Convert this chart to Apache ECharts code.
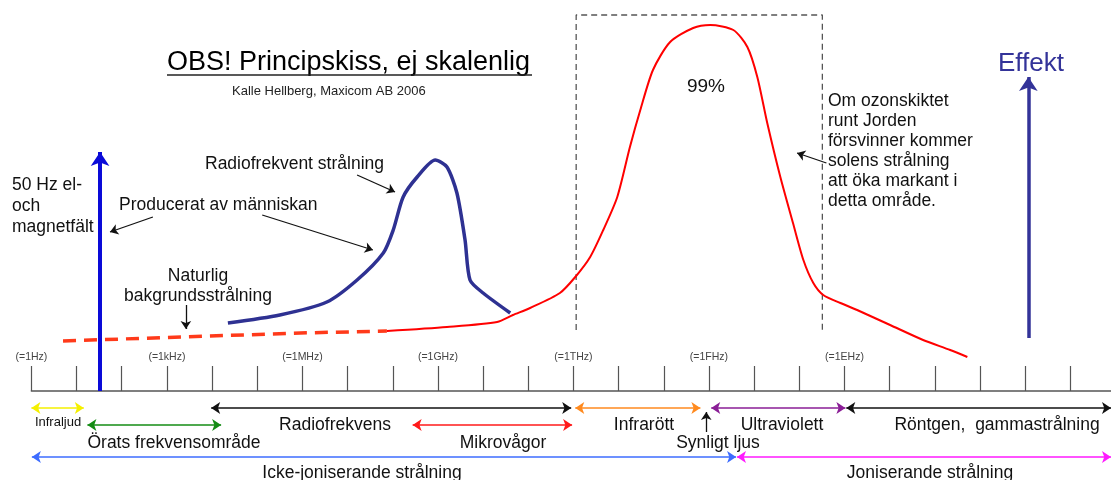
<!DOCTYPE html>
<html>
<head>
<meta charset="utf-8">
<title>Principskiss</title>
<script src="https://cdn.jsdelivr.net/npm/echarts@6/dist/echarts.min.js"></script>
<style>
html, body { margin: 0; padding: 0; background: #fff; }
#main { width: 1111px; height: 480px; }
</style>
</head>
<body>
<div id="main"></div>
<script>
// x: one unit per tick (three ticks = factor 1000), y: effect above the axis line
var tickValues = [0, 1, 2, 3, 4, 5, 6, 7, 8, 9, 10, 11, 12, 13, 14, 15, 16, 17, 18, 19, 20, 21, 22, 23];
var tickLabelValues = [0, 3, 6, 9, 12, 15, 18];
var tickLabels = ["(=1Hz)", "(=1kHz)", "(=1MHz)", "(=1GHz)", "(=1THz)", "(=1FHz)", "(=1EHz)"];

// natural background radiation (dashed part) and the sun's spectrum
var naturalDashed = [[0.70, 50], [5.95, 58], [7.87, 60]];
var naturalSolid = [
	[7.87, 60], [9.20, 64], [10.31, 69], [10.66, 76], [11.04, 83], [11.70, 98],
	[12.04, 114], [12.37, 134], [12.66, 161], [12.97, 194], [13.25, 244], [13.48, 281],
	[13.76, 321], [14.14, 349], [14.65, 363], [15.03, 366], [15.54, 361], [15.85, 344],
	[16.07, 314], [16.29, 268], [16.58, 214], [16.86, 168], [17.09, 131], [17.31, 108],
	[17.53, 96], [17.91, 88], [18.28, 81], [19.01, 66], [19.74, 51], [20.34, 41], [20.72, 34]
];
// man made radio frequency radiation
var manMade = [
	[4.35, 68], [5.50, 76], [6.54, 89], [7.21, 111], [7.79, 138], [8.01, 161],
	[8.23, 194], [8.54, 214], [8.94, 231], [9.20, 224], [9.42, 198], [9.60, 151],
	[9.71, 111], [10.00, 98], [10.60, 78]
];
// 50 Hz field and the "Effekt" axis
var fieldLine = [[1.52, 0], [1.52, 239]];
var effektLine = [[22.07, 53], [22.07, 314]];
// ozone region
var ozoneBox = [[12.06, 61], [12.06, 376], [17.51, 376], [17.51, 61]];

// frequency bands below the axis
var bandNames = ["Infraljud", "Örats frekvensområde", "Radiofrekvens", "Mikrovågor", "Infrarött",
	"Ultraviolett", "Röntgen,  gammastrålning", "Icke-joniserande strålning", "Joniserande strålning"];
var bandFrom = [0.00, 1.24, 3.98, 8.44, 12.04, 15.05, 18.04, 0.01, 15.62];
var bandTo = [1.16, 4.20, 11.95, 11.97, 14.81, 18.02, 23.90, 15.60, 23.90];
var bandLevel = [-17, -34, -17, -34, -17, -17, -17, -66, -66];
var bandColors = ["#f5f000", "#148c14", "#111111", "#ff1a1a", "#ff8a1f", "#8a1e96", "#111111", "#3d6cff", "#ff1aff"];

// small pointer arrows [from, to]
var pointers = [
	[[17.60, 228], [16.95, 238]],
	[[7.21, 216], [8.05, 199]],
	[[2.69, 174], [1.74, 159]],
	[[5.11, 176], [7.56, 141]],
	[[3.42, 86], [3.42, 62]],
	[[14.94, -41], [14.94, -21]]
];

var FONT = '"Liberation Sans", Arial, sans-serif';

function txt(text, x, y, size, opts) {
	opts = opts || {};
	return {
		type: "text",
		x: x,
		y: y,
		silent: true,
		style: {
			text: text,
			font: size + "px " + FONT,
			fill: opts.fill || "#111",
			align: opts.align || "left",
			verticalAlign: opts.va || "middle",
			lineHeight: opts.lh
		}
	};
}

var bandData = bandNames.map(function (n, i) {
	return {
		name: n,
		coords: [[bandFrom[i], bandLevel[i]], [bandTo[i], bandLevel[i]]],
		lineStyle: { color: bandColors[i] }
	};
});

var chart = echarts.init(document.getElementById("main"));
chart.setOption({
	animation: false,
	backgroundColor: "#fff",
	grid: { left: 31.4, right: 0, top: 0, bottom: 89 },
	xAxis: {
		type: "value",
		min: 0,
		max: 23.9,
		splitLine: { show: false },
		axisLine: { lineStyle: { color: "#555", width: 1.5 } },
		axisTick: {
			inside: true,
			length: 25,
			customValues: tickValues,
			lineStyle: { color: "#555", width: 1.2 }
		},
		axisLabel: {
			inside: true,
			margin: 34,
			verticalAlign: "middle",
			customValues: tickLabelValues,
			color: "#444",
			fontSize: 10.5,
			fontFamily: FONT,
			formatter: function (v) {
				var i = tickLabelValues.indexOf(v);
				return i >= 0 ? tickLabels[i] : "";
			}
		}
	},
	yAxis: { type: "value", min: 0, max: 391, show: false },
	series: [
		{
			type: "line",
			data: ozoneBox,
			symbol: "none",
			lineStyle: { color: "#555", width: 1.3, type: [6, 4] }
		},
		{
			type: "line",
			data: naturalDashed,
			symbol: "none",
			lineStyle: { color: "#ff3a1a", width: 3.5, type: [13, 8] }
		},
		{
			type: "line",
			data: naturalSolid,
			symbol: "none",
			smooth: 0.25,
			lineStyle: { color: "#ff0000", width: 2 }
		},
		{
			type: "line",
			data: manMade,
			symbol: "none",
			smooth: 0.25,
			lineStyle: { color: "#2e3192", width: 3.5 }
		},
		{
			type: "lines",
			coordinateSystem: "cartesian2d",
			clip: false,
			symbol: ["none", "arrow"],
			symbolSize: 14,
			lineStyle: { width: 4, opacity: 1 },
			data: [
				{ coords: fieldLine, lineStyle: { color: "#0a0ad8" } },
				{ coords: effektLine, lineStyle: { color: "#333399", width: 3.5 } }
			]
		},
		{
			type: "lines",
			coordinateSystem: "cartesian2d",
			clip: false,
			symbol: ["none", "arrow"],
			symbolSize: 8,
			lineStyle: { color: "#111", width: 1.3, opacity: 1 },
			data: pointers.map(function (p) { return { coords: p }; })
		},
		{
			type: "lines",
			coordinateSystem: "cartesian2d",
			clip: false,
			symbol: ["arrow", "arrow"],
			symbolSize: 9,
			lineStyle: { width: 1.6, opacity: 1 },
			data: bandData
		}
	],
	graphic: [
		txt("OBS! Principskiss, ej skalenlig", 167, 63, 27, { fill: "#000" }),
		{ type: "line", silent: true, shape: { x1: 167, y1: 75, x2: 532, y2: 75 }, style: { stroke: "#222", lineWidth: 1.6 } },
		txt("Kalle Hellberg, Maxicom AB 2006", 232, 91, 13, { fill: "#222" }),
		txt("Effekt", 1031, 64, 26, { fill: "#333399", align: "center" }),
		txt("99%", 706, 87, 19, { align: "center" }),
		txt("Om ozonskiktet\nrunt Jorden\nförsvinner kommer\nsolens strålning\natt öka markant i\ndetta område.", 828, 91, 17.5, { va: "top", lh: 20 }),
		txt("Radiofrekvent strålning", 205, 164, 17.5),
		txt("Producerat av människan", 119, 205, 17.5),
		txt("50 Hz el-\noch\nmagnetfält", 12, 175, 17.5, { va: "top", lh: 21 }),
		txt("Naturlig\nbakgrundsstrålning", 198, 266, 17.5, { va: "top", lh: 20, align: "center" }),
		txt(bandNames[0], 58, 422, 13, { align: "center" }),
		txt(bandNames[1], 174, 443, 17.5, { align: "center" }),
		txt(bandNames[2], 335, 425, 17.5, { align: "center" }),
		txt(bandNames[3], 503, 443, 17.5, { align: "center" }),
		txt(bandNames[4], 644, 425, 17.5, { align: "center" }),
		txt("Synligt ljus", 718, 443, 17.5, { align: "center" }),
		txt(bandNames[5], 782, 425, 17.5, { align: "center" }),
		txt(bandNames[6], 997, 425, 17.5, { align: "center" }),
		txt(bandNames[7], 362, 473, 17.5, { align: "center" }),
		txt(bandNames[8], 930, 473, 17.5, { align: "center" })
	]
});
</script>
</body>
</html>
